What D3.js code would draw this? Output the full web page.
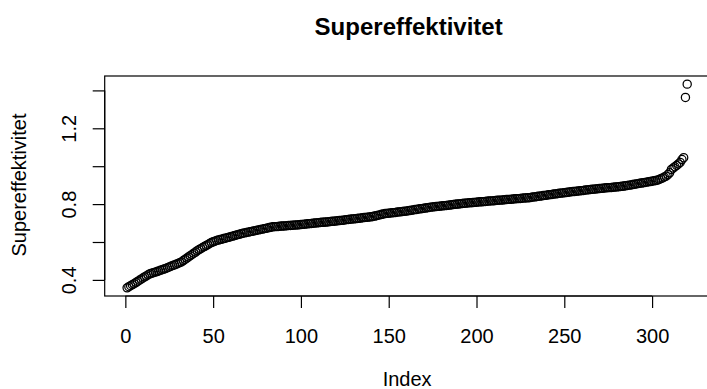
<!DOCTYPE html>
<html>
<head>
<meta charset="utf-8">
<script src="https://cdn.jsdelivr.net/npm/d3@7"></script>
<style>
  html, body { margin: 0; padding: 0; background: #fff; }
  svg { display: block; font-family: "Liberation Sans", Arial, Helvetica, sans-serif; }
</style>
</head>
<body>
<svg id="chart" width="707" height="389"></svg>
<script>
// Sorted super-efficiency scores, one per unit (index 1..320)
const supereffektivitet = [
  0.358, 0.364, 0.369, 0.375, 0.380, 0.386, 0.392, 0.398, 0.404, 0.410,
  0.416, 0.421, 0.427, 0.432, 0.435, 0.438, 0.441, 0.444, 0.447, 0.451,
  0.454, 0.457, 0.460, 0.464, 0.468, 0.472, 0.476, 0.479, 0.483, 0.487,
  0.491, 0.495, 0.502, 0.508, 0.515, 0.521, 0.528, 0.534, 0.541, 0.547,
  0.554, 0.560, 0.565, 0.571, 0.576, 0.581, 0.586, 0.592, 0.597, 0.601,
  0.604, 0.608, 0.610, 0.613, 0.615, 0.618, 0.620, 0.623, 0.625, 0.628,
  0.631, 0.633, 0.636, 0.639, 0.641, 0.644, 0.646, 0.648, 0.650, 0.652,
  0.654, 0.656, 0.658, 0.660, 0.662, 0.664, 0.666, 0.668, 0.670, 0.672,
  0.674, 0.676, 0.678, 0.680, 0.681, 0.681, 0.682, 0.683, 0.684, 0.684,
  0.685, 0.686, 0.687, 0.687, 0.688, 0.689, 0.690, 0.690, 0.691, 0.692,
  0.693, 0.694, 0.695, 0.696, 0.697, 0.698, 0.699, 0.700, 0.701, 0.702,
  0.703, 0.704, 0.704, 0.705, 0.706, 0.707, 0.708, 0.709, 0.710, 0.711,
  0.712, 0.713, 0.714, 0.715, 0.716, 0.718, 0.719, 0.720, 0.721, 0.722,
  0.723, 0.724, 0.725, 0.726, 0.728, 0.729, 0.730, 0.731, 0.732, 0.733,
  0.735, 0.737, 0.739, 0.741, 0.743, 0.746, 0.748, 0.750, 0.751, 0.752,
  0.753, 0.754, 0.755, 0.756, 0.758, 0.759, 0.760, 0.761, 0.762, 0.763,
  0.765, 0.766, 0.768, 0.769, 0.771, 0.772, 0.774, 0.775, 0.776, 0.778,
  0.779, 0.781, 0.782, 0.784, 0.785, 0.786, 0.787, 0.788, 0.789, 0.790,
  0.791, 0.792, 0.793, 0.794, 0.795, 0.797, 0.798, 0.799, 0.800, 0.801,
  0.802, 0.803, 0.804, 0.805, 0.806, 0.807, 0.807, 0.808, 0.809, 0.810,
  0.811, 0.812, 0.812, 0.813, 0.814, 0.815, 0.816, 0.817, 0.817, 0.818,
  0.819, 0.820, 0.821, 0.821, 0.822, 0.823, 0.824, 0.825, 0.825, 0.826,
  0.827, 0.828, 0.829, 0.829, 0.830, 0.831, 0.832, 0.832, 0.833, 0.834,
  0.835, 0.837, 0.838, 0.839, 0.841, 0.842, 0.843, 0.845, 0.846, 0.847,
  0.849, 0.850, 0.851, 0.853, 0.854, 0.855, 0.857, 0.858, 0.859, 0.860,
  0.861, 0.862, 0.864, 0.865, 0.866, 0.867, 0.868, 0.869, 0.870, 0.871,
  0.872, 0.874, 0.875, 0.876, 0.877, 0.878, 0.879, 0.880, 0.881, 0.882,
  0.883, 0.884, 0.885, 0.886, 0.887, 0.887, 0.888, 0.889, 0.890, 0.891,
  0.892, 0.893, 0.894, 0.895, 0.897, 0.898, 0.900, 0.901, 0.903, 0.905,
  0.906, 0.908, 0.910, 0.911, 0.913, 0.914, 0.916, 0.918, 0.919, 0.921,
  0.923, 0.924, 0.926, 0.930, 0.934, 0.938, 0.943, 0.947, 0.956, 0.965,
  0.983, 0.990, 0.997, 1.004, 1.012, 1.020, 1.035, 1.045, 1.363, 1.433
];

const xTicks = [0, 50, 100, 150, 200, 250, 300];
const yTicks = [0.4, 0.6, 0.8, 1.0, 1.2, 1.4];
const yTickLabels = ["0.4", "", "0.8", "", "1.2", ""];

const titleText = "Supereffektivitet";
const xLabel = "Index";
const yLabel = "Supereffektivitet";

// plot region (the frame runs slightly past the right edge of the page)
const plot = { left: 104.7, top: 76, right: 709.6, bottom: 296 };

const points = supereffektivitet.map((v, i) => ({ idx: i + 1, v }));

// 4% padding on both ends, as in a base-graphics scatter
function padded(extent) {
  const r = extent[1] - extent[0];
  return [extent[0] - 0.04 * r, extent[1] + 0.04 * r];
}

const x = d3.scaleLinear()
  .domain(padded([1, supereffektivitet.length]))
  .range([plot.left, plot.right]);
const y = d3.scaleLinear()
  .domain(padded(d3.extent(supereffektivitet)))
  .range([plot.bottom, plot.top]);

const svg = d3.select("#chart");
const fontSize = 20;

// points
svg.append("g")
  .selectAll("circle")
  .data(points)
  .join("circle")
  .attr("cx", d => x(d.idx))
  .attr("cy", d => y(d.v))
  .attr("r", 4.1)
  .attr("fill", "none")
  .attr("stroke", "#000")
  .attr("stroke-width", 1.25);

// frame
svg.append("rect")
  .attr("x", plot.left)
  .attr("y", plot.top)
  .attr("width", plot.right - plot.left)
  .attr("height", plot.bottom - plot.top)
  .attr("fill", "none")
  .attr("stroke", "#000")
  .attr("stroke-width", 1.2);

// x axis
const xAxis = d3.axisBottom(x)
  .tickValues(xTicks)
  .tickSize(12)
  .tickPadding(21)
  .tickFormat(d3.format("d"));
const gx = svg.append("g")
  .attr("transform", `translate(0,${plot.bottom})`)
  .call(xAxis);
gx.select(".domain")
  .attr("d", `M${x(xTicks[0])},0H${x(xTicks[xTicks.length - 1])}`)
  .attr("stroke-width", 1.2);
gx.selectAll(".tick line").attr("stroke-width", 1.2);
gx.selectAll(".tick text")
  .attr("font-family", "Liberation Sans, Arial, sans-serif")
  .attr("font-size", fontSize)
  .attr("fill", "#000");

// y axis, labels rotated parallel to the axis
const yAxis = d3.axisLeft(y)
  .tickValues(yTicks)
  .tickSize(12)
  .tickFormat((d, i) => yTickLabels[i]);
const gy = svg.append("g")
  .attr("transform", `translate(${plot.left},0)`)
  .call(yAxis);
gy.select(".domain")
  .attr("d", `M0,${y(yTicks[0])}V${y(yTicks[yTicks.length - 1])}`)
  .attr("stroke-width", 1.2);
gy.selectAll(".tick line").attr("stroke-width", 1.2);
gy.selectAll(".tick text")
  .attr("x", null)
  .attr("dy", null)
  .attr("transform", "translate(-29,0) rotate(-90)")
  .attr("text-anchor", "middle")
  .attr("font-family", "Liberation Sans, Arial, sans-serif")
  .attr("font-size", fontSize)
  .attr("fill", "#000");

// title and axis titles
const cx = (plot.left + plot.right) / 2;
svg.append("text")
  .attr("x", cx + 1.5)
  .attr("y", 35)
  .attr("text-anchor", "middle")
  .attr("font-size", 24)
  .attr("font-weight", "bold")
  .text(titleText);

svg.append("text")
  .attr("x", cx)
  .attr("y", 386)
  .attr("text-anchor", "middle")
  .attr("font-size", fontSize)
  .text(xLabel);

svg.append("text")
  .attr("transform", `translate(25.5,${(plot.top + plot.bottom) / 2 - 1}) rotate(-90)`)
  .attr("text-anchor", "middle")
  .attr("font-size", fontSize)
  .text(yLabel);
</script>
</body>
</html>
